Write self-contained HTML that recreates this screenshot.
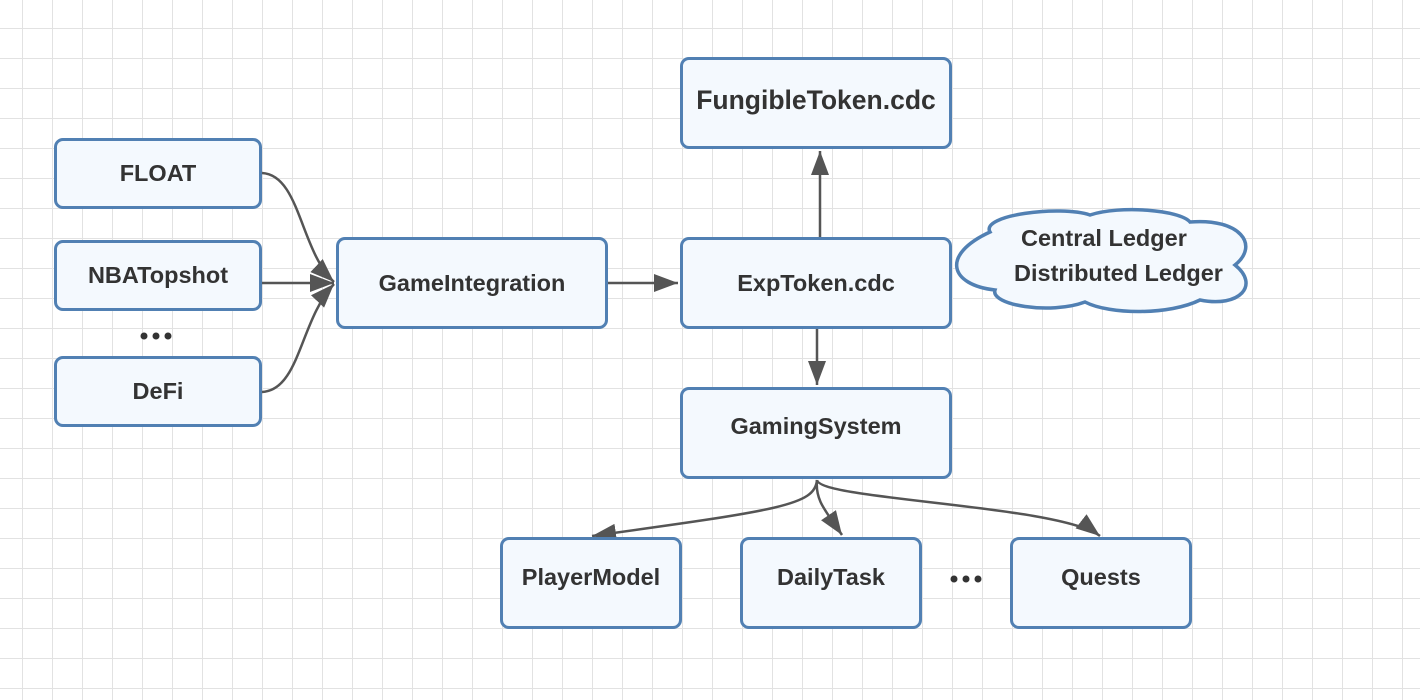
<!DOCTYPE html>
<html><head><style>
body{margin:0;width:1420px;height:700px;overflow:hidden;background:#fff;
background-image:linear-gradient(#e2e2e2 1px,transparent 1px),linear-gradient(90deg,#e2e2e2 1px,transparent 1px);
background-size:30px 30px;background-position:22px 28px;font-family:"Liberation Sans",sans-serif}
.b{position:absolute;box-sizing:border-box;border:3.5px solid #5180b3;border-radius:9px;background:#f4f9fe;
display:flex;align-items:center;justify-content:center;font-weight:bold;font-size:23.5px;color:#333}
svg{position:absolute;left:0;top:0}
.t{position:absolute;font-weight:bold;font-size:23.5px;color:#333}
</style></head><body>
<svg width="1420" height="700">
<defs>
<marker id="m" markerWidth="24" markerHeight="18" refX="24" refY="9" orient="auto" markerUnits="userSpaceOnUse"><path d="M0,0 L24,9 L0,18z" fill="#555"/></marker></defs>
<g stroke="#555" stroke-width="2.5" fill="none">
<path d="M262,173 C300,175 300,250 334,282" marker-end="url(#m)"/>
<path d="M262,283 L334,283" marker-end="url(#m)"/>
<path d="M262,392 C300,390 300,320 334,284" marker-end="url(#m)"/>
<path d="M608,283 L678,283" marker-end="url(#m)"/>
<path d="M820,237 L820,151" marker-end="url(#m)"/>
<path d="M817,329 L817,385" marker-end="url(#m)"/>
<path d="M817,480 C815,505 780,510 592,536" marker-end="url(#m)"/>
<path d="M817,480 C815,500 825,510 842,535" marker-end="url(#m)"/>
<path d="M817,480 C820,500 1060,505 1100,536" marker-end="url(#m)"/>
</g>
<path d="M990,232 C980,215 1060,205 1090,215 C1120,205 1180,210 1190,222 C1240,218 1260,245 1235,265 C1260,285 1240,308 1200,300 C1170,315 1110,315 1085,302 C1050,315 990,305 995,290 C950,285 940,255 990,232z" fill="#f4f9fe" stroke="#5180b3" stroke-width="3.5"/>
<g fill="#333"><circle cx="144" cy="336" r="3.5"/><circle cx="156" cy="336" r="3.5"/><circle cx="168" cy="336" r="3.5"/>
<circle cx="954" cy="579" r="3.5"/><circle cx="966" cy="579" r="3.5"/><circle cx="978" cy="579" r="3.5"/></g>
</svg>
<div class="b" style="left:54px;top:138px;width:208px;height:71px">FLOAT</div>
<div class="b" style="left:54px;top:240px;width:208px;height:71px">NBATopshot</div>
<div class="b" style="left:54px;top:356px;width:208px;height:71px">DeFi</div>
<div class="b" style="left:336px;top:237px;width:272px;height:92px">GameIntegration</div>
<div class="b" style="left:680px;top:237px;width:272px;height:92px">ExpToken.cdc</div>
<div class="b" style="left:680px;top:57px;width:272px;height:92px;font-size:26.5px;padding-bottom:6px">FungibleToken.cdc</div>
<div class="b" style="left:680px;top:387px;width:272px;height:92px;padding-bottom:14px">GamingSystem</div>
<div class="b" style="left:500px;top:537px;width:182px;height:92px;padding-bottom:12px">PlayerModel</div>
<div class="b" style="left:740px;top:537px;width:182px;height:92px;padding-bottom:12px">DailyTask</div>
<div class="b" style="left:1010px;top:537px;width:182px;height:92px;padding-bottom:12px">Quests</div>
<div class="t" style="left:1021px;top:225px">Central Ledger</div>
<div class="t" style="left:1014px;top:260px">Distributed Ledger</div>
</body></html>
